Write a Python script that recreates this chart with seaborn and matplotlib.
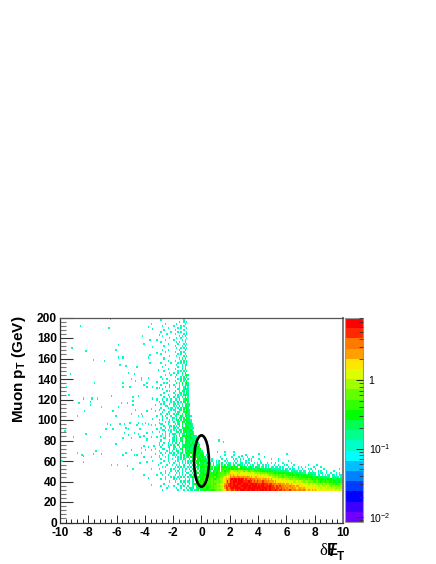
# -*- coding: utf-8 -*-
import numpy as np
import pandas as pd
import matplotlib
matplotlib.use("Agg")
import matplotlib.pyplot as plt
import seaborn as sns
from matplotlib.colors import ListedColormap, LogNorm
from matplotlib.patches import Ellipse

sns.set_style("white")
plt.rcParams["font.family"] = ["Liberation Sans", "DejaVu Sans"]
plt.rcParams["mathtext.fontset"] = "custom"
plt.rcParams["mathtext.rm"] = "Liberation Sans:bold"
plt.rcParams["text.color"] = "black"
plt.rcParams["xtick.labelcolor"] = "black"
plt.rcParams["ytick.labelcolor"] = "black"

# colour bands of the z axis, lowest first
band_colors = ["#6e00ff", "#3c00ff", "#0000ff", "#003cff", "#0082ff", "#00beff", "#00ffff",
               "#00ffc8", "#00ff8c", "#00ff50", "#00ff00", "#32ff00", "#64ff00", "#a0ff00",
               "#dcff00", "#ffe600", "#ffa000", "#ff7800", "#ff2800", "#ff0000"]
band_chars = "0123456789abcdefghij"
z_min = 0.0085
z_max = 8.0

# dense part, one string per 2 GeV row starting at 31 GeV,
# 0.1 wide entries starting at x = -3, groups of one x unit
dense_rows = [
    "..7....... ...7...8.. 7.88.789.9 99aa9bbaab cdccdefhih hiihijijjj jijjijjjij ijjjijiiji iijihiihih hhihghhggh gghgfggfgf gfffefffef effedeeded",
    ".....7.... ..7..7...8 .7878.8a99 a9baabbcbc cdddefgiih ijjijjjjij jjijjjjjjj jjijjjiiji iihiihihhg hggghggfgg gfgfffefff fefedeeded ededdcdddc",
    ".7....7... 7....7.8.. 8..78.a889 aababbbcbc cdcddfhihi jijjjjiijj jjjjjijjji jijjiijiji ihhihihhgh gghgggfggf ffefeefefe eeddeddded dcddcdccdc",
    "...7...... ...7..8.7. .8.78a9.8a 9babbcbcbb cddeefghhi jijjijjjij jjjijjjiji iiijiiihii hhhghhgggf ggfgffefff efeeeddede ddcddcdccd bcbbbabbcb",
    ".......7.. .7...8.77. 78.89.8a9a bababcbcbc cdccdefgig jijjjijjji iiijiihihi hhhihhghgg gfgfffefef feeeeddede ddcddccccb bcbbabbabb aabaa9aa9a",
    ".7..7..... 8.7.7...8. .8.89.a9.a aabbcabcba bccddefgfg ijijjijiji hihhihhhgh ggfgggfgfg eefedeeded ddcdcdcccb cbcbbcbbab aba9aa9a9a 9a9989a998",
    "....7...7. 7..7.8.7.. 8.7a98.a99 abbaaabbac abbccdefef hghhghhggh gghgfgffgf ffefeeefee ddcdcccbcc cbcbbcbbab aba9aa9a99 9a89989888 8.78877.78",
    "..7...7... .7..7.7.8. .78.8a9.9a 9aabbaabaa abbccdcded gfgffgffff fefeefeeed edeededdcd ccbcbcbbcb bbabaabaa9 a9a99a8998 8.78.7.8.7 7.87.7.77.",
    ".7..7..7.. ..7.8.8..7 7..8.99a.9 aa9baab9ab aabbccbcdc efeeeedeee eefedeeddd dcdcccbcbb baabaa9aa9 9a99a89989 8878.87877 7.7.77..7. .7...7.7..",
    "....7...7. .7.7..7.8. ..8.7.9.8a 9a9bab9.a9 9ab.bcabbb dedddcdddc cdcbcccbbb babaa9a9a9 99a8989889 87.87877.7 7.77..7.7. ..7.7...7. ...7.....7",
    "7.......7. 7...8.7.87 .7.8a9.8.a 9ab9a8a9.a 99a.babaca baab9abaa9 a9a99a8989 9a99898898 878787.7.8 7.7.77..7. .7...7.7.. 7.....7... .......7..",
    "..7.7..... .7.7.8.7.. 7.8.7.89.a a99b9ab9.9 98a.a9a9a9 9a8a99.a98 98.8a87.98 8.78.7.7.7 7.77.7.7.. .7..7...7. ...7.....7 ....7..... ..........",
    ".....7...7 ..7.7..8.. .7.8.8.a98 a9b9.a9.a. 789.8.9.89 8.98.8987. 7.8.7.8..7 7..7.7.7.. .7..7...7. 7....7.... .....7.... .7........",
    ".7.....7.. 7...7.7.8. 8.7.8.9a.9 9a89a.8.8. 7.7.9..7.8 7.7.8..87. .7.7...7.7 ..7...7... ..7....7.. ...7......",
    "...7..7... .7.7..8.7. 7.8a8.a99a a9a9.a.8.. 7.8...7.7. ...7.7.7.. .7...7.... .7........ ....7..... .7........",
    ".7....7..7 ...7.7.87. .7.8.9.a9a 9a98.8.7.. ....7..7.. ..7.7..7.7 ...7.7.... 7......... ....7.....",
    "7...7.7... .7.7.8.8.8 9.a9a9b9a9 a98.7..... ...7...... .7....7... ..7...7... ....7.....",
    "..7...7..7 7.8..8.9.8 a9.a89a89a a9.7...... ......7... ...7...... .7........",
    ".7..7..77. 8..7.88.8a 89a98a9a89 97........",
    "7....7.7.7 ..88..9.98 a98998a9a8 8.........",
    "..77...7.. 8.7..8a.99 8a89a89a9a",
    ".7....77.. 88..8.98a9 9a98a89a8.",
    "..7...7.7. 8..9..899a 89a8a9898.",
    "7..7..7..8 .88.7.8.a9 9a8a9898..",
    ".7.....8.7 8.9..89.8a 9a8998a...",
    "...77....7 7.8..98.9a 89a9898...",
    ".7..7..8.. 7.8.8.9a8a 9a98987...",
    "..7.7..7.7 87..9.88.a 89a98.....",
    "7...8...7. ..88.8.9a9 8a897.....",
    "..77..7.7. 7.8.98.a9a 89a8......",
    ".7..7..8.. 88.7..89a9 a9887.....",
    "...8...77. 8.7.8.9.8a 9897......",
    ".77...7... .7.88.9.a9 8a98......",
    "....7.77.. 8..78.a9.9 a98.......",
    "7.8....7.7 ..89.8.9a9 897.......",
    "..7..7...8 7.8.88.9.a 98........",
    "..8.7...7. .77..98.a9 897.......",
    ".7...8.7.. 8.88..9.a8 97........",
    "..7...77.. .7.87..99a 88........",
    "8..7....7. 77..88.9.a 87........",
    ".7....8.77 .8.7.8.98a 8.........",
    "....77.... 7.7.9.7.a9 87........",
    ".7.7...8.. 88.7..8.89 87........",
    "...7....7. 7..8.7.98. 8.........",
    "..7..7..7. .77.8..89a 8.........",
    "...8...7.. 8..77.8.9. 7.........",
    ".7....7... .7.8.7.8a8 8.........",
    "...7...... 7...78.7.9 7.........",
    ".....7.7.. .8..7.89.8 8.........",
    "..7....... ...77..8a8 7.........",
    "....7..8.. .7..8..79. 7.........",
    ".7.....7.. 7...7.8.88 8.........",
    "...7.7.... ..8.7.9.8a 7.........",
    ".......7.. .7...8.7.9",
    "..7..7.... ...7.8.89. 7.........",
    ".7........ .7...7.8.9",
    "....7...7. ..8...7.8a 7.........",
    ".......7.. 7..7..8.9.",
    "...7...... ...7.7.8.8",
    "......7... .7....8.9.",
    "..7....... ...7..7.8.",
    "....7..... ..7...7.87",
    ".7......7. ...7.8.7.8",
    "......7... .7...7.9.8",
    "...7...... ....7.8.7.",
    ".......7.. ..7....8.8",
    ".7........ ...7.7..7.",
    "....7..... .7...8.7..",
    "..7...7... ....7...8.",
    ".......... ..7..7.7.7",
    "...7...... .7....7.8.",
    "......7... ...7...7.7",
    ".7........ ..7.7...8.",
    "....7..... 7.....7.7.",
    ".......7.. ..7..7...7",
    "..7....... ....7.7.7.",
    ".....7.... .7.....7.7",
    ".7......7. ...7.7...7",
    "...7...... .7.....7..",
    "......7... ...7.7...7",
    "..7....... 7....7.7..",
    "....7..... ..7.....7.",
    ".......... ....7..7.7",
    ".7........ .......7..",
    ".......... ........7. 7.",
]

# scattered single entries away from the dense part
sparse_x = [-6.5, -3.6, -8.6, -6.6, -3.8, -3.5, -3.0, -4.2, -3.7, -3.2, -4.1, -5.9, -3.5, -9.2, -6.1, -8.2,
            -3.2, -5.6, -5.9, -3.7, -3.8, -7.7, -6.9, -3.7, -5.8, -5.4, -4.6, -3.1, -5.2, -4.8, -9.3, -4.3,
            -3.8, -5.0, -4.3, -4.7, -3.2, -7.6, -5.6, -3.9, -4.1, -5.6, -5.1, -9.6, -3.5, -3.9, -3.2, -3.0,
            -9.4, -6.4, -4.5, -4.9, -8.4, -7.8, -7.4, -3.5, -3.2, -4.9, -7.9, -8.7, -5.7, -5.3, -3.0, -7.9,
            -3.3, -7.1, -5.9, -4.9, -3.6, -4.7, -8.3, -6.3, -3.9, -3.3, -4.3, -5.0, -6.1, -8.8, -4.5, -4.2,
            -3.2, -6.7, -6.5, -5.8, -5.5, -5.1, -4.6, -4.5, -4.2, -4.0, -3.8, -3.6, -3.5, -3.3, -3.0, -6.8,
            -6.3, -5.4, -5.2, -4.4, -3.2, -8.2, -9.7, -4.8, -5.5, -5.2, -3.9, -4.5, -3.5, -9.1, -7.2, -5.6,
            -5.0, -4.4, -4.1, -3.6, -3.2, -3.9, -3.0, -6.1, -4.1, -4.3, -3.4, -3.8, -3.0, -5.0, -7.5, -8.8,
            -3.6, -4.0, -3.3, -4.3, -8.5, -8.4, -7.7, -7.1, -5.6, -5.4, -4.8, -4.6, -4.1, -3.6, -3.3, -3.0,
            -9.9, -8.4, -6.4, -6.0, -5.3, -4.9, -4.4, -3.9, -3.5, -3.1, -3.6, -4.1, -3.8, -3.2, -3.6,
            1.2, 1.5, 1.1, 1.6, 2.2, 2.3, 2.2, 2.8, 4.0, 6.0, 3.3, 4.9, 4.9, 5.2, 4.1, 7.0]
sparse_y = [198, 193, 191, 189, 190, 188, 182, 181, 177, 177, 173, 172, 170, 169, 167, 166,
            164, 160, 160, 162, 160, 158, 157, 155, 153, 152, 151, 148, 145, 144, 144, 140,
            140, 139, 138, 137, 136, 135, 135, 135, 133, 131, 131, 131, 131, 131, 130, 130,
            123, 122, 122, 121, 120, 120, 120, 120, 119, 118, 117, 116, 116, 116, 117, 114,
            114, 112, 112, 114, 110, 109, 108, 108, 108, 108, 105, 105, 103, 103, 103, 103,
            103, 95, 94, 95, 95, 96, 94, 96, 95, 96, 95, 94, 100, 94, 96, 90,
            90, 91, 90, 90, 90, 85, 88, 86, 86, 84, 86, 85, 87, 82, 82, 81,
            81, 82, 83, 82, 82, 80, 77, 76, 74, 72, 74, 73, 75, 70, 69, 67,
            70, 70, 71, 67, 65, 64, 66, 66, 65, 67, 65, 65, 63, 63, 66, 64,
            59, 58, 55, 55, 54, 51, 57, 58, 59, 55, 51, 45, 42, 45, 36,
            79, 78, 68, 68, 68, 68, 65, 64, 66, 66, 60, 61, 57, 57, 57, 53]
sparse_band = "7"

x_ticks = [-10, -8, -6, -4, -2, 0, 2, 4, 6, 8, 10]
y_ticks = [0, 20, 40, 60, 80, 100, 120, 140, 160, 180, 200]
z_major = [0.01, 0.1, 1]
z_minor = [0.009, 0.02, 0.03, 0.04, 0.05, 0.06, 0.07, 0.08, 0.09, 0.2, 0.3, 0.4, 0.5, 0.6, 0.7, 0.8, 0.9,
           2, 3, 4, 5, 6, 7, 8]
z_labels = [r"$\mathregular{10^{-2}}$", r"$\mathregular{10^{-1}}$", "1"]
n_xcells = 200


def band_value(ch):
    k = band_chars.index(ch)
    lo, hi = np.log10(z_min), np.log10(z_max)
    return 10 ** (lo + (k + 0.5) * (hi - lo) / len(band_colors))


def x_cell(x):
    return (x + 10) * n_xcells / 20


grid = np.full((200, n_xcells), np.nan)
for i, row in enumerate(dense_rows):
    for j, ch in enumerate(row.replace(" ", "")):
        if ch != ".":
            grid[31 + 2 * i:33 + 2 * i, 70 + j] = band_value(ch)
for x, y in zip(sparse_x, sparse_y):
    grid[y:y + 2, int(round(x_cell(x)))] = band_value(sparse_band)

df = pd.DataFrame(grid, index=np.arange(200), columns=np.arange(n_xcells))

fig = plt.figure(figsize=(4.36, 5.64), dpi=100)
ax = fig.add_axes([60 / 436, 41.5 / 564, 283 / 436, 205 / 564])
cax = fig.add_axes([345 / 436, 42 / 564, 18 / 436, 204 / 564])

sns.heatmap(df, ax=ax, cbar_ax=cax, cmap=ListedColormap(band_colors), norm=LogNorm(z_min, z_max),
            xticklabels=False, yticklabels=False, antialiased=True)
ax.set_xlim(0, n_xcells)
ax.set_ylim(0, 200)
ax.set_xlabel("")
ax.set_ylabel("")

for s in ax.spines.values():
    s.set_visible(True)
    s.set_linewidth(0.9)
    s.set_color("#333333")
ax.spines["top"].set_color("#555555")
ax.spines["right"].set_color("#777777")
ax.spines["right"].set_linewidth(1.4)

# axis values converted to grid cells
ax.set_xticks([x_cell(v) for v in x_ticks])
ax.set_xticks([x_cell(v) for v in np.arange(-10, 10.01, 0.4)], minor=True)
ax.set_xticklabels([str(v) for v in x_ticks], fontsize=8.6, fontweight="bold")
ax.set_yticks(y_ticks)
ax.set_yticks(np.arange(0, 201, 4), minor=True)
ax.set_yticklabels([str(v) for v in y_ticks], fontsize=8.6, fontweight="bold")
ax.tick_params(axis="x", which="major", direction="in", length=6, width=0.7, color="#222222", pad=3,
               bottom=True, left=False)
ax.tick_params(axis="x", which="minor", direction="in", length=3, width=0.7, color="#222222", bottom=True)
ax.tick_params(axis="y", which="major", direction="in", length=9, width=0.8, color="#333333", pad=2, left=True)
ax.tick_params(axis="y", which="minor", direction="in", length=4.5, width=0.8, color="#777777", left=True)

ax.add_patch(Ellipse((x_cell(0), 60), 1.05 * n_xcells / 20, 50, fill=False, edgecolor="black", linewidth=1.9, zorder=5))

cbar = ax.collections[0].colorbar
cbar.ax.set_yscale("log")
cbar.ax.set_ylim(z_min, z_max)
cbar.set_ticks(z_major)
cbar.set_ticklabels(z_labels, fontsize=7.5)
cbar.ax.set_yticks(z_minor, minor=True)
cbar.ax.set_yticklabels([], minor=True)
cbar.ax.set_axisbelow(False)
cbar.solids.set_zorder(0)
cbar.ax.tick_params(which="major", axis="y", direction="in", length=5, width=0.7, color="#222222",
                    right=True, left=False, pad=4)
cbar.ax.tick_params(which="minor", axis="y", direction="in", length=3, width=0.6, color="#333333",
                    right=True, left=False)
cbar.outline.set_edgecolor("#999999")
cbar.outline.set_linewidth(0.8)

fig.text(19 / 436, (564 - 369) / 564, r"Muon p$_{\mathregular{T}}$ (GeV)", rotation=90, fontsize=11,
         fontweight="bold", ha="center", va="center")
fig.text(323.5 / 436, (564 - 555) / 564, "\u03b4", family="Liberation Serif", fontsize=12, ha="center", va="baseline")
fig.text(332 / 436, (564 - 555) / 564, "E", fontsize=12, fontweight="bold", ha="center", va="baseline")
fig.text(332 / 436, (564 - 556) / 564, "/", fontsize=13, fontweight="bold", ha="center", va="baseline")
fig.text(340 / 436, (564 - 560) / 564, "T", fontsize=8.5, fontweight="bold", ha="center", va="baseline")

fig.savefig("out.png", dpi=100, facecolor="white")
